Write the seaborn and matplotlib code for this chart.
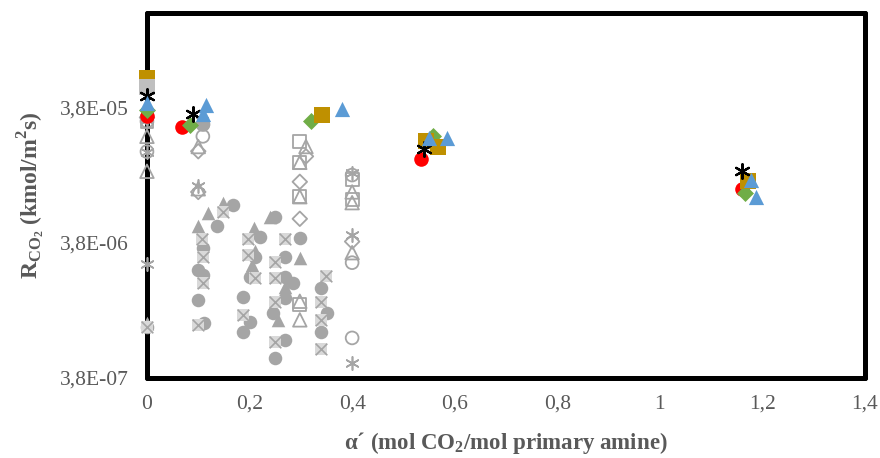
import numpy as np
import matplotlib
matplotlib.use('Agg')
import matplotlib.pyplot as plt
import seaborn as sns

sns.set_style('white')
plt.rcParams['font.family'] = ['Liberation Serif', 'DejaVu Serif']
plt.rcParams['mathtext.fontset'] = 'custom'
plt.rcParams['mathtext.rm'] = 'Liberation Serif'
plt.rcParams['mathtext.bf'] = 'Liberation Serif:bold'

# Datos - series en color
red_x = [0, 0.068, 0.534, 1.160]
red_y = [3.26e-5, 2.70e-5, 1.57e-5, 9.5e-6]
green_x = [0, 0.084, 0.320, 0.558, 1.166]
green_y = [3.61e-5, 2.80e-5, 2.99e-5, 2.32e-5, 8.77e-6]
gold_x = [0, 0.341, 0.545, 0.567, 1.172]
gold_y = [6.23e-5, 3.31e-5, 2.16e-5, 1.92e-5, 1.09e-5]
star_x = [0, 0.090, 0.540, 1.160]
star_y = [4.58e-5, 3.37e-5, 1.86e-5, 1.28e-5]
blue_x = [0, 0.110, 0.115, 0.380, 0.550, 0.585, 1.178, 1.188]
blue_y = [4.07e-5, 3.37e-5, 3.93e-5, 3.67e-5, 2.24e-5, 2.24e-5, 1.11e-5, 8.2e-6]
lgsq_x = [0]
lgsq_y = [5.34e-5]

# Datos - series grises (literatura)
gcirc_x = [0, 0.110, 0.136, 0.168, 0.109, 0.100, 0.109, 0.100, 0.111, 0.220, 0.211,
           0.201, 0.187, 0.201, 0.187, 0.298, 0.269, 0.269, 0.269, 0.246, 0.269, 0.250,
           0.339, 0.351, 0.339, 0.250, 0.285]
gcirc_y = [9.0e-7, 2.84e-5, 5.0e-6, 7.26e-6, 3.49e-6, 2.40e-6, 2.20e-6, 1.44e-6, 9.7e-7,
           4.21e-6, 2.99e-6, 2.13e-6, 1.51e-6, 9.9e-7, 8.3e-7, 4.14e-6, 2.99e-6, 2.13e-6,
           1.49e-6, 1.15e-6, 7.3e-7, 5.35e-7, 1.76e-6, 1.15e-6, 8.3e-7, 5.9e-6, 1.9e-6]
gtri_x = [0, 0.119, 0.148, 0.100, 0.209, 0.211, 0.298, 0.269, 0.255, 0.240, 0.205]
gtri_y = [9.7e-7, 6.33e-6, 7.52e-6, 5.0e-6, 4.9e-6, 3.3e-6, 2.94e-6, 1.79e-6, 1.02e-6,
          5.9e-6, 2.6e-6]
xsq_x = [0, 0.107, 0.109, 0.109, 0.100, 0.197, 0.197, 0.211, 0.187, 0.269, 0.250,
         0.250, 0.250, 0.250, 0.349, 0.339, 0.339, 0.339, 0.148]
xsq_y = [9.0e-7, 4.07e-6, 2.99e-6, 1.92e-6, 9.4e-7, 4.07e-6, 3.10e-6, 2.09e-6, 1.11e-6,
         4.07e-6, 2.75e-6, 2.09e-6, 1.39e-6, 7.0e-7, 2.16e-6, 1.39e-6, 1.02e-6, 6.2e-7,
         6.4e-6]
osq_x = [0, 0.298, 0.298, 0.298, 0.400, 0.400, 0.298]
osq_y = [3.0e-5, 2.13e-5, 1.49e-5, 8.33e-6, 1.11e-5, 7.9e-6, 1.32e-6]
odia_x = [0, 0.100, 0.100, 0.310, 0.298, 0.298, 0.400]
odia_y = [3.2e-5, 1.80e-5, 9.0e-6, 1.65e-5, 1.07e-5, 5.7e-6, 3.87e-6]
otri_x = [0, 0, 0.100, 0.100, 0.310, 0.298, 0.298, 0.400, 0.400, 0.400, 0.298, 0.298]
otri_y = [2.32e-5, 1.28e-5, 1.95e-5, 9.5e-6, 1.95e-5, 1.49e-5, 8.3e-6, 9.0e-6, 7.5e-6,
          3.2e-6, 1.02e-6, 1.40e-6]
ocirc_x = [0, 0, 0.109, 0.109, 0.400, 0.400, 0.400]
ocirc_y = [1.79e-5, 3.0e-5, 2.32e-5, 2.84e-5, 1.20e-5, 2.70e-6, 7.5e-7]
gast_x = [0, 0, 0, 0.100, 0.107, 0.400, 0.400, 0.400]
gast_y = [2.63e-6, 1.79e-5, 3.05e-5, 1.00e-5, 3.0e-5, 4.36e-6, 4.9e-7, 1.25e-5]

GRIS = '#A5A5A5'
TXT = '#595959'
ast = (6, 2, 0)

fig = plt.figure(figsize=(8.8, 4.58), dpi=100)
ax = fig.add_axes([0.167, 0.175, 0.816, 0.797])

kw = dict(ax=ax, clip_on=False, legend=False)
# grises
sns.scatterplot(x=gcirc_x, y=gcirc_y, marker='o', s=95, color=GRIS, edgecolor=GRIS, linewidth=0, zorder=3, **kw)
sns.scatterplot(x=gtri_x, y=gtri_y, marker='^', s=95, color=GRIS, edgecolor=GRIS, linewidth=0, zorder=3, **kw)
sns.scatterplot(x=xsq_x, y=xsq_y, marker='s', s=85, color='#D9D9D9', edgecolor='#D9D9D9', linewidth=0, zorder=3, **kw)
sns.scatterplot(x=xsq_x, y=xsq_y, marker='x', s=70, color=GRIS, linewidth=1.2, zorder=3.1, **kw)
sns.scatterplot(x=osq_x, y=osq_y, marker='s', s=85, facecolor='none', edgecolor=GRIS, linewidth=1.3, zorder=3, **kw)
sns.scatterplot(x=odia_x, y=odia_y, marker='D', s=55, facecolor='none', edgecolor=GRIS, linewidth=1.3, zorder=3, **kw)
sns.scatterplot(x=otri_x, y=otri_y, marker='^', s=95, facecolor='none', edgecolor=GRIS, linewidth=1.3, zorder=3, **kw)
sns.scatterplot(x=ocirc_x, y=ocirc_y, marker='o', s=85, facecolor='none', edgecolor=GRIS, linewidth=1.3, zorder=3, **kw)
sns.scatterplot(x=gast_x, y=gast_y, marker=ast, s=90, color=GRIS, linewidth=1.2, zorder=3, **kw)
# color
sns.scatterplot(x=red_x, y=red_y, marker='o', s=110, color='#FF0000', linewidth=0, zorder=4, **kw)
sns.scatterplot(x=green_x, y=green_y, marker='D', s=75, color='#70AD47', linewidth=0, zorder=4, **kw)
sns.scatterplot(x=gold_x, y=gold_y, marker='s', s=120, color='#BF9000', linewidth=0, zorder=4, **kw)
sns.scatterplot(x=lgsq_x, y=lgsq_y, marker='s', s=120, color='#BFBFBF', linewidth=0, zorder=4, **kw)
sns.scatterplot(x=star_x, y=star_y, marker=ast, s=110, color='black', linewidth=1.6, zorder=4, **kw)
sns.scatterplot(x=blue_x, y=blue_y, marker='^', s=120, color='#5B9BD5', linewidth=0, zorder=4, **kw)

ax.set_yscale('log')
ax.set_xlim(0, 1.4)
ax.set_ylim(3.8e-7, 1.9e-4)
ax.set_yticks([3.8e-7, 3.8e-6, 3.8e-5])
ax.set_yticklabels(['3,8E-07', '3,8E-06', '3,8E-05'])
ax.yaxis.set_minor_locator(matplotlib.ticker.NullLocator())
xt = np.arange(0, 1.41, 0.2)
ax.set_xticks(xt)
ax.set_xticklabels(['0', '0,2', '0,4', '0,6', '0,8', '1', '1,2', '1,4'])
ax.tick_params(length=0, labelsize=15.5, colors=TXT)
ax.tick_params(axis='x', pad=12)
ax.tick_params(axis='y', pad=13)

for sp in ax.spines.values():
    sp.set_visible(True)
    sp.set_color('black')
    sp.set_linewidth(3.6)
    sp.set_capstyle('round')
    sp.set_zorder(2.5)

ax.set_xlabel('α´ (mol CO$_\\mathbf{2}$/mol primary amine)', fontsize=16.5, fontweight='bold',
              color=TXT, labelpad=12)
ax.set_ylabel('$\\mathbf{R_{CO_2}}$ (kmol/m$^\\mathbf{2}$s)', fontsize=17, fontweight='bold',
              color=TXT, labelpad=10)

plt.savefig('out.png', dpi=100)
